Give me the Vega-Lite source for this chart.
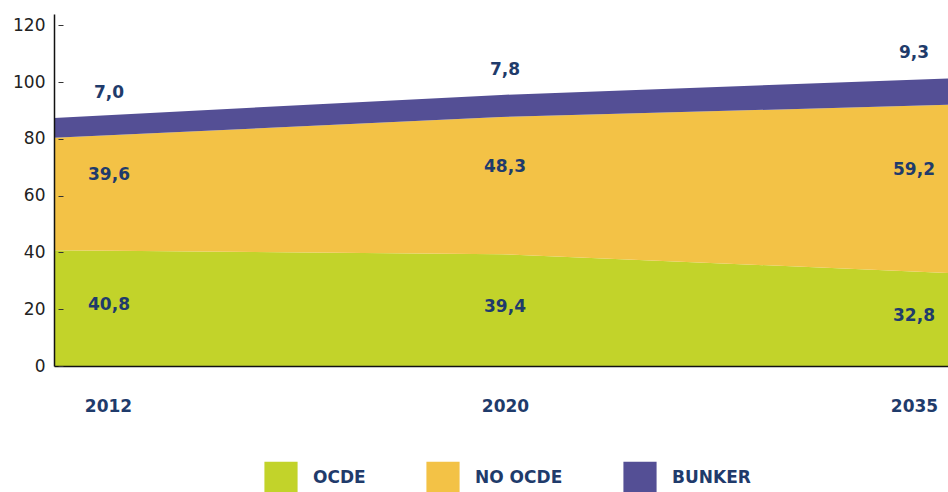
{
  "$schema": "https://vega.github.io/schema/vega-lite/v6.json",
  "width": 894,
  "height": 352,
  "autosize": {"type": "none"},
  "padding": {"left": 54, "top": 14, "right": 0, "bottom": 126},
  "background": "white",
  "config": {
    "view": {"stroke": null},
    "font": "DejaVu Sans",
    "locale": {"number": {"decimal": ",", "thousands": ".", "grouping": [3], "currency": ["", " €"]}}
  },
  "data": {
    "values": [
      {"year": "2012", "series": "OCDE", "value": 40.8},
      {"year": "2012", "series": "NO OCDE", "value": 39.6},
      {"year": "2012", "series": "BUNKER", "value": 7.0},
      {"year": "2020", "series": "OCDE", "value": 39.4},
      {"year": "2020", "series": "NO OCDE", "value": 48.3},
      {"year": "2020", "series": "BUNKER", "value": 7.8},
      {"year": "2035", "series": "OCDE", "value": 32.8},
      {"year": "2035", "series": "NO OCDE", "value": 59.2},
      {"year": "2035", "series": "BUNKER", "value": 9.3}
    ]
  },
  "transform": [
    {"stack": "value", "groupby": ["year"], "sort": [{"field": "series", "order": "descending"}], "as": ["v0", "v1"]}
  ],
  "encoding": {
    "x": {
      "field": "year",
      "type": "ordinal",
      "scale": {"type": "point", "padding": 0},
      "axis": {
        "title": null,
        "domainColor": "#111111",
        "domainWidth": 1.5,
        "ticks": false,
        "labelAngle": 0,
        "labelFont": "DejaVu Sans",
        "labelFontSize": 17,
        "labelFontWeight": "bold",
        "labelColor": "#1f3b6b",
        "labelPadding": 40,
        "labelBaseline": "middle",
        "labelOffset": {"condition": [{"test": "datum.value == '2012'", "value": 54}, {"test": "datum.value == '2035'", "value": -34}], "value": 4},
        "zindex": 1
      }
    },
    "y": {
      "field": "v1",
      "type": "quantitative",
      "scale": {"domain": [0, 124], "nice": false, "zero": true},
      "axis": {
        "title": null,
        "values": [0, 20, 40, 60, 80, 100, 120],
        "grid": false,
        "domainColor": "#111111",
        "domainWidth": 1.5,
        "tickSize": -9,
        "tickDash": [0, 4, 5, 20],
        "tickColor": "#333333",
        "tickWidth": 1,
        "labelFont": "DejaVu Sans",
        "labelFontSize": 17,
        "labelColor": "#222222",
        "labelPadding": 18,
        "zindex": 1
      }
    }
  },
  "layer": [
    {
      "mark": {"type": "area", "interpolate": "linear", "opacity": 1},
      "encoding": {
        "y2": {"field": "v0"},
        "color": {
          "field": "series",
          "type": "nominal",
          "scale": {"domain": ["OCDE", "NO OCDE", "BUNKER"], "range": ["#c2d32a", "#f3c246", "#544f95"]},
          "legend": {
            "title": null,
            "orient": "none",
            "legendX": 210,
            "legendY": 447,
            "direction": "horizontal",
            "columns": 3,
            "symbolType": "square",
            "symbolSize": 1100,
            "symbolStrokeWidth": 0,
            "symbolOpacity": 1,
            "labelFont": "DejaVu Sans",
            "labelFontSize": 17,
            "labelFontWeight": "bold",
            "labelColor": "#1f3b6b",
            "labelOffset": 15,
            "columnPadding": 60
          }
        }
      }
    },
    {
      "mark": {
        "type": "text",
        "font": "DejaVu Sans",
        "fontSize": 17,
        "fontWeight": "bold",
        "color": "#1f3b6b",
        "baseline": "middle",
        "align": "center",
        "dx": {"expr": "datum.year == '2012' ? 55 : (datum.year == '2020' ? 4 : -34)"},
        "dy": {"expr": "datum.series == 'BUNKER' ? -25 : (scale('y', datum.v0) - scale('y', datum.v1)) / 2 + (datum.series == 'OCDE' ? -3 : -19)"}
      },
      "encoding": {
        "text": {"field": "value", "type": "quantitative", "format": ".1f"}
      }
    }
  ]
}
